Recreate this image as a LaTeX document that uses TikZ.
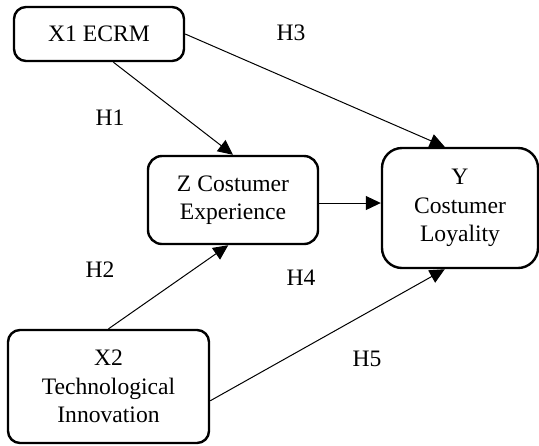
\documentclass[tikz,border=0pt]{standalone}
\usepackage{fontspec}
\setmainfont{Liberation Serif}
\usetikzlibrary{arrows.meta, positioning}

\begin{document}
\begin{tikzpicture}[x=0.5pt, y=-0.5pt,
    var/.style={draw, line width=1.2pt, rounded corners=6pt, align=center, inner sep=0pt, font=\rmfamily\fontsize{11.8}{14.3}\selectfont},
    hyp/.style={font=\rmfamily\fontsize{11.8}{14.3}\selectfont},
    every edge/.style={draw, line width=0.5pt, -{Triangle[length=7.5pt,width=7pt]}}]

    \useasboundingbox (0,0) rectangle (539,445);

    % Define the variables (nodes)
    \node[var, minimum width=85pt, minimum height=27pt] (x1) at (99,34) {X1 ECRM};
    \node[var, minimum width=85pt, minimum height=44pt, rounded corners=7pt] (z) at (233,200) {Z Costumer\\Experience};
    \node[var, minimum width=78pt, minimum height=60pt, rounded corners=10pt] (y) at (460,208) {Y\\Costumer\\Loyality};
    \node[var, minimum width=100.5pt, minimum height=56.5pt] (x2) at (108.5,386.5) {X2\\Technological\\Innovation};

    % Hypothesis labels
    \node[hyp] (h1) at (110,118) {H1};
    \node[hyp] (h2) at (100,270) {H2};
    \node[hyp] (h3) at (291,33) {H3};
    \node[hyp] (h4) at (301,278) {H4};
    \node[hyp] (h5) at (367,359) {H5};

    % Define the paths (edges)
    \path
    (x1.-63) edge (z.north)
    (x1.east) edge (y.104)
    (z.-2) edge (z.-2 -| y.west)
    (x2.north) edge (z.-96)
    (x2.-8) edge (y.-104);

\end{tikzpicture}
\end{document}
